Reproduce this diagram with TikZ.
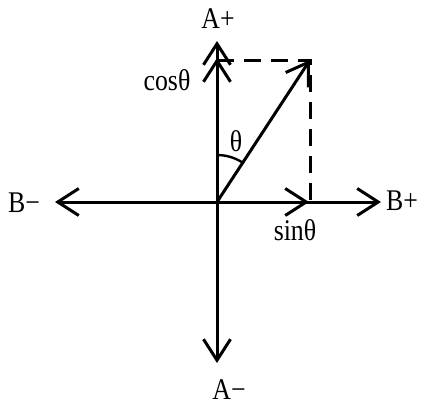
\documentclass[tikz,border=0pt]{standalone}
\usepackage{fontspec}
\setmainfont{Liberation Serif}
\newfontfamily\narrowserif[FakeStretch=0.86]{Liberation Serif}
\usetikzlibrary{arrows.meta,calc}
\begin{document}
\begin{tikzpicture}[x=1pt,y=-1pt,
  ax/.style={line width=3pt,-{Straight Barb[length=21pt,width=27pt]}},
  dsh/.style={line width=3pt,dash pattern=on 17pt off 10pt},
  lbl/.style={font=\narrowserif\fontsize{30}{34}\selectfont,inner sep=0pt}]
\useasboundingbox (0,0) rectangle (421,407);
\coordinate (O) at (217,202);
\coordinate (Ap) at (217,41);
\coordinate (Am) at (217,363);
\coordinate (Bp) at (381,202);
\coordinate (Bm) at (55,202);
\coordinate (C) at (217,58);
\coordinate (S) at (309,202);
\coordinate (P) at (310,60);
\coordinate (Pb) at (310,202);
\coordinate (Ct) at (217,60);
\draw[ax] (O) -- (Ap);
\draw[ax] (O) -- (Am);
\draw[ax] (O) -- (Bp);
\draw[ax] (O) -- (Bm);
\draw[ax] (O) -- (C);
\draw[ax] (O) -- (S);
\draw[ax] (O) -- (P);
\draw[dsh] (Ct) -- (P) -- (Pb);
\draw[line width=2.4pt] ($(O)+(0,-47)$) arc[start angle=-90,end angle=-56.8,radius=47];
\node[lbl] (lAp) at (218,19) {A+};
\node[lbl] (lAm) at (229,390) {A−};
\node[lbl] (lBm) at (24,203) {B−};
\node[lbl] (lBp) at (402,201) {B+};
\node[lbl] (lcos) at (167,80) {cosθ};
\node[lbl] (lsin) at (295,230) {sinθ};
\node[lbl] (lth) at (236,141) {θ};
\end{tikzpicture}
\end{document}
